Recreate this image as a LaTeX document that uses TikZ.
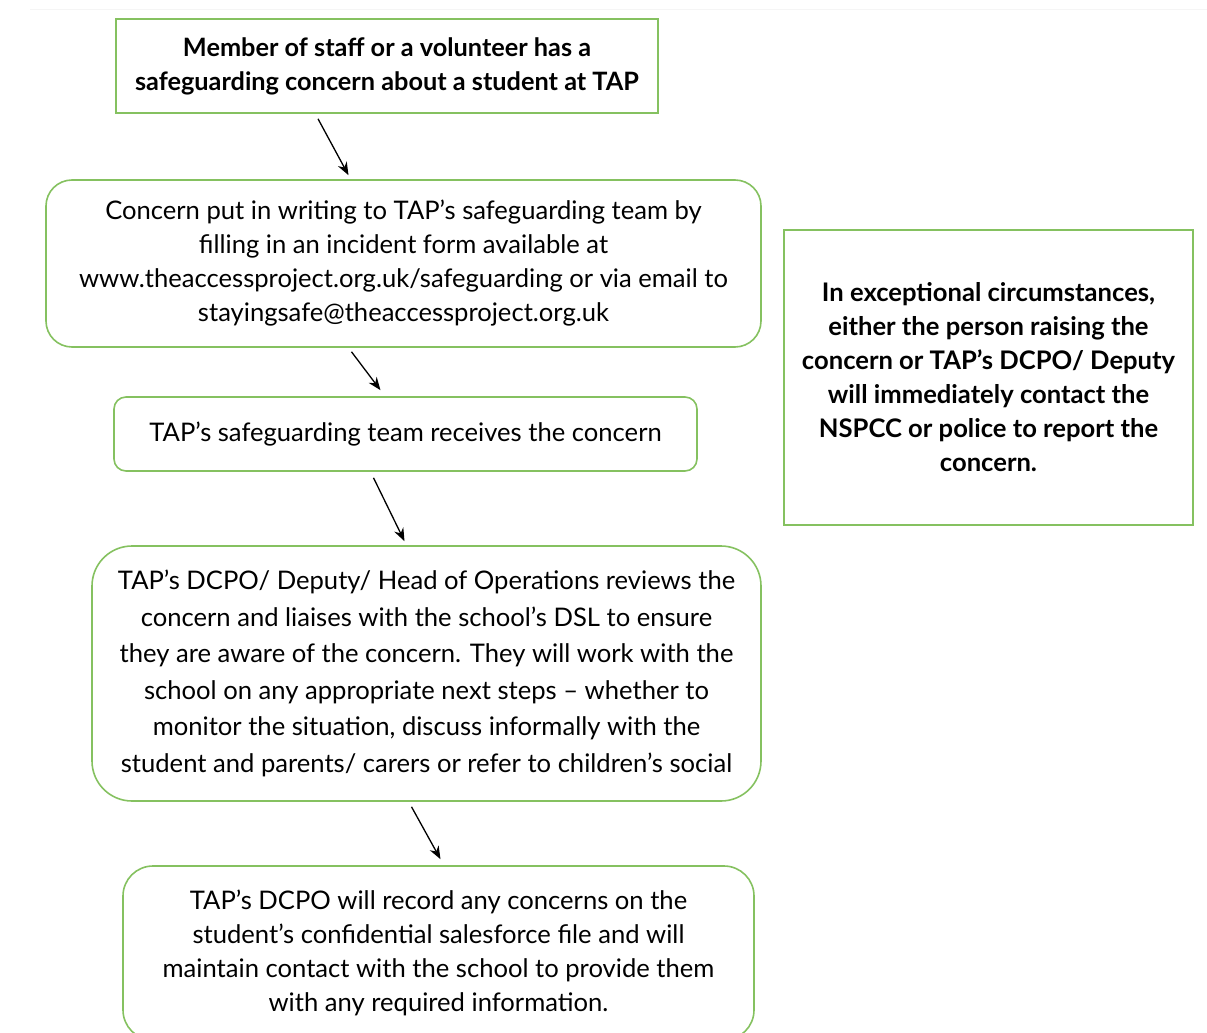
\documentclass[tikz,border=0pt]{standalone}
\usepackage{fontspec}
\setmainfont{Lato}
\usepackage{tikz}
\usetikzlibrary{positioning}
\usetikzlibrary{arrows.meta}
\definecolor{tapgreen}{RGB}{133,193,96}
\tikzstyle{box_sq} = [rectangle, draw=tapgreen, line width=1.6pt, align=center, inner sep=0pt, font=\bfseries\fontsize{25.3}{34}\selectfont]
\tikzstyle{box_rd} = [rectangle, draw=tapgreen, line width=1.6pt, align=center, inner sep=0pt, font=\fontsize{25.6}{34}\selectfont]

\begin{document}
\begin{tikzpicture}[->,>={Stealth[length=13pt,width=10pt]},x=1pt,y=-1pt,line width=1.3pt]
\useasboundingbox (0,0) rectangle (1207,1033);
\draw[-,gray!8,line width=1pt] (30,10) -- (1207,10);
\node [box_sq, minimum width=542pt, minimum height=94pt] (concern) at (387,66)
    {Member of staff or a volunteer has a\\ safeguarding concern about a student at TAP};
\node [box_rd, rounded corners=26pt, minimum width=715pt, minimum height=167pt] (writing) at (403.5,263.5)
    {Concern put in writing to TAP’s safeguarding team by\\ filling in an incident form available at\\
     www.theaccessproject.org.uk/safeguarding or via email to\\ stayingsafe@theaccessproject.org.uk};
\node [box_rd, rounded corners=12pt, minimum width=583pt, minimum height=74pt] (receives) at (405.5,434)
    {TAP’s safeguarding team receives the concern};
\node [box_rd, rounded corners=40pt, minimum width=669pt, minimum height=255pt,
       font=\fontsize{25.6}{36.5}\selectfont] (reviews) at (426.5,673.5)
    {TAP’s DCPO/ Deputy/ Head of Operations reviews the\\ concern and liaises with the school’s DSL to ensure\\
     they are aware of the concern. They will work with the\\ school on any appropriate next steps -- whether to\\
     monitor the situation, discuss informally with the\\ student and parents/ carers or refer to children’s social};
\node [box_rd, rounded corners=30pt, minimum width=631pt, minimum height=174pt] (record) at (438.5,953)
    {TAP’s DCPO will record any concerns on the\\ student’s confidential salesforce file and will\\
     maintain contact with the school to provide them\\ with any required information.};
\node [box_sq, minimum width=409pt, minimum height=295pt, font=\bfseries\fontsize{25.6}{34}\selectfont] (exceptional) at (988.5,377.5)
    {In exceptional circumstances,\\ either the person raising the\\ concern or TAP’s DCPO/ Deputy\\
     will immediately contact the\\ NSPCC or police to report the\\ concern.};

\draw ([xshift=-69pt,yshift=-5pt]concern.south) -- ([xshift=-55pt,yshift=4pt]writing.north);
\draw ([xshift=-52pt,yshift=-4pt]writing.south) -- ([xshift=-25pt,yshift=6pt]receives.north);
\draw ([xshift=-32pt,yshift=-6pt]receives.south) -- ([xshift=-22pt,yshift=4pt]reviews.north);
\draw ([xshift=-15pt,yshift=-5pt]reviews.south) -- ([xshift=2pt,yshift=6pt]record.north);
\end{tikzpicture}
\end{document}
